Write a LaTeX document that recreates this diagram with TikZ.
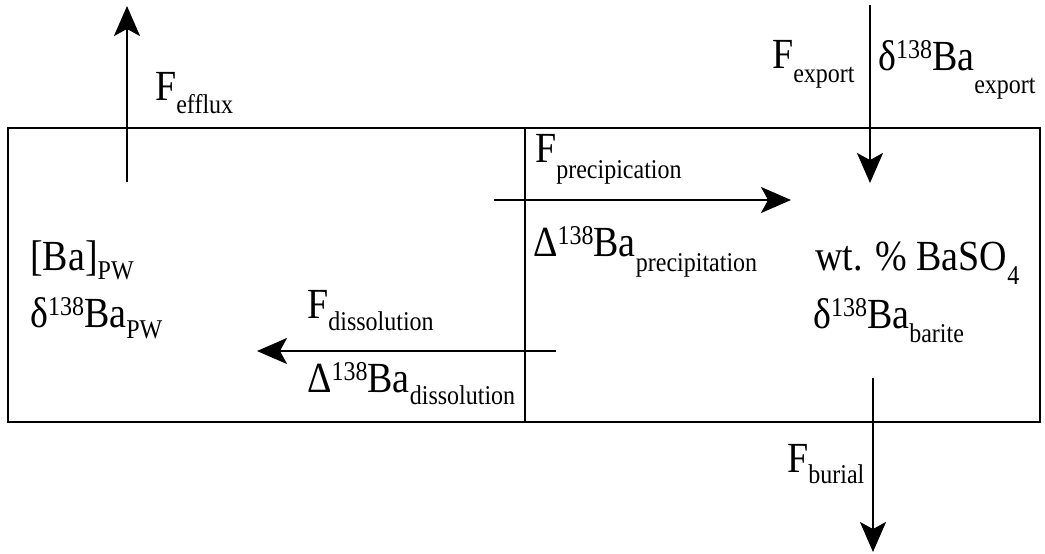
\documentclass[tikz,border=0pt]{standalone}
\usepackage{fontspec}
\setmainfont{Liberation Serif}
\usetikzlibrary{arrows.meta}
\newcommand\sbx[2]{\raisebox{-#1pt}{\fontsize{24}{24}\selectfont #2}}
\newcommand\spx[1]{\raisebox{10pt}{\fontsize{24}{24}\selectfont #1}}
\newcommand\tall[1]{\scalebox{1}[1.13]{#1}}
\tikzset{
  lbl/.style={anchor=base west, inner sep=0pt, font=\fontsize{38}{40}\selectfont},
  flux/.style={line width=2pt, -{Stealth[length=30pt,width=26pt,inset=7pt]}},
  wall/.style={line width=2pt}
}
\begin{document}
\begin{tikzpicture}[x=1pt,y=-1pt]
\useasboundingbox (0,0) rectangle (1045,554);
% compartments
\coordinate (tl) at (8,128);
\coordinate (br) at (1040,422);
\coordinate (dt) at (525,128);
\coordinate (db) at (525,422);
\draw[wall] (tl) rectangle (br);
\draw[wall] (dt) -- (db);
% arrow end points
\coordinate (effS) at (127,182);
\coordinate (effE) at (127,6);
\coordinate (expS) at (870,5);
\coordinate (expE) at (870,183);
\coordinate (preS) at (494,200);
\coordinate (preE) at (791,200);
\coordinate (disS) at (556,351);
\coordinate (disE) at (257,351);
\coordinate (burS) at (873,378);
\coordinate (burE) at (873,552);
\draw[flux] (effS) -- (effE);
\draw[flux] (expS) -- (expE);
\draw[flux] (preS) -- (preE);
\draw[flux] (disS) -- (disE);
\draw[flux] (burS) -- (burE);
% labels
\node[lbl] (lefflux) at (155,100) {\tall{F\sbx{12}{efflux}}};
\node[lbl] (lexport) at (772,68) {\tall{F\sbx{13}{export}}};
\node[lbl] (ldexport) at (878,70) {\tall{δ\spx{138}Ba\sbx{21}{export}}};
\node[lbl] (lprec) at (535,162) {\tall{F\sbx{15}{precipication}}};
\node[lbl] (ldprec) at (533,256) {\tall{Δ\spx{138}Ba\sbx{14}{precipitation}}};
\node[lbl] (lwt) at (815,270) {\tall{wt. \% BaSO\sbx{13}{4}}};
\node[lbl] (ldbar) at (813,328) {\tall{δ\spx{138}Ba\sbx{13}{barite}}};
\node[lbl] (lbapw) at (30,270) {\tall{[Ba]\sbx{8}{PW}}};
\node[lbl] (ldpw) at (30,327) {\tall{δ\spx{138}Ba\sbx{10}{PW}}};
\node[lbl] (ldiss) at (307,318) {\tall{F\sbx{11}{dissolution}}};
\node[lbl] (lddiss) at (307,392) {\tall{Δ\spx{138}Ba\sbx{11}{dissolution}}};
\node[lbl] (lbur) at (787,472) {\tall{F\sbx{10}{burial}}};
\end{tikzpicture}
\end{document}
